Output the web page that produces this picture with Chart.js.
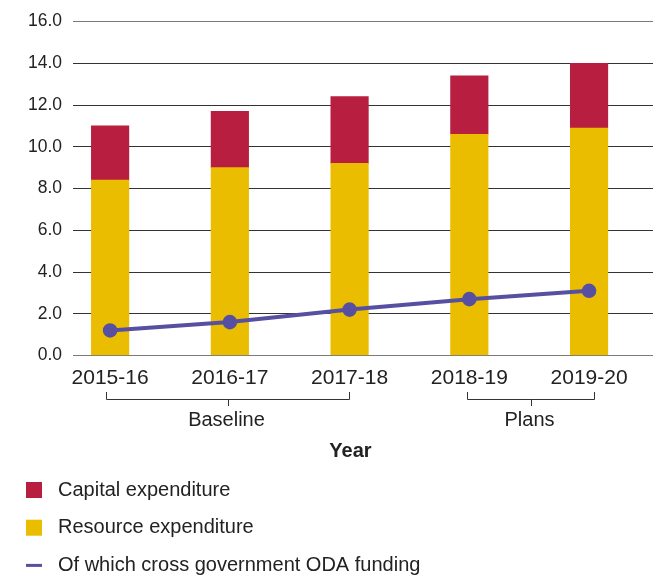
<!DOCTYPE html>
<html>
<head>
<meta charset="utf-8">
<script src="https://cdn.jsdelivr.net/npm/chart.js@4"></script>
<style>
  html, body { margin: 0; padding: 0; background: #fff; }
  #wrap { width: 653px; height: 575px; }
</style>
</head>
<body>
<div id="wrap"><canvas id="myChart" width="653" height="575"></canvas></div>
<script>
// values (£ billion)
const years = ['2015-16', '2016-17', '2017-18', '2018-19', '2019-20'];
const resource = [8.4, 9.0, 9.2, 10.6, 10.9];
const capital = [2.6, 2.7, 3.2, 2.8, 3.1];
const odaFunding = [1.2, 1.6, 2.2, 2.7, 3.1];
const yTicks = [0, 2, 4, 6, 8, 10, 12, 14, 16];
const groups = [
    { label: 'Baseline', from: -0.034, to: 1.995 },
    { label: 'Plans', from: 2.978, to: 4.039 }
];
const axisTitle = 'Year';

const FONT = '"Liberation Sans", Arial, sans-serif';
const TEXT = '#222';

const points = (arr) => arr.map((v, i) => ({ x: i, y: v }));

// brackets under the x labels, axis title and the legend list
const extras = {
    id: 'extras',
    afterDraw(chart) {
        const c = chart.ctx;
        const xs = chart.scales.x;
        c.save();
        c.strokeStyle = '#333';
        c.lineWidth = 1;
        c.fillStyle = TEXT;
        c.textAlign = 'center';
        c.textBaseline = 'middle';
        c.font = '20px ' + FONT;
        groups.forEach((g) => {
            const a = Math.round(xs.getPixelForValue(g.from)) + 0.5;
            const b = Math.round(xs.getPixelForValue(g.to)) + 0.5;
            const m = Math.round((a + b) / 2) + 0.5;
            c.beginPath();
            c.moveTo(a, 392); c.lineTo(a, 399.5); c.lineTo(b, 399.5); c.lineTo(b, 392);
            c.moveTo(m, 399.5); c.lineTo(m, 406);
            c.stroke();
            c.fillText(g.label, m - 2, 420.5);
        });
        c.font = 'bold 20px ' + FONT;
        c.fillText(axisTitle, 350.5, 451);

        // legend
        const ds = chart.data.datasets;
        const rows = [ds[1], ds[0], ds[2]];
        c.textAlign = 'left';
        c.font = '20px ' + FONT;
        rows.forEach((d, i) => {
            const y = 490 + i * 37.7;
            if (d.type === 'line') {
                c.fillStyle = d.borderColor;
                c.fillRect(26, y - 1.5, 16, 3);
            } else {
                c.fillStyle = d.backgroundColor;
                c.fillRect(26, y - 8, 16, 16);
            }
            c.fillStyle = TEXT;
            c.fillText(d.label, 58, y);
        });
        c.restore();
    }
};

const ctx = document.getElementById('myChart').getContext('2d');
const myChart = new Chart(ctx, {
    data: {
        datasets: [
            {
                type: 'bar',
                label: 'Resource expenditure',
                data: points(resource),
                backgroundColor: '#ebbd00',
                barThickness: 37.5,
                order: 2
            },
            {
                type: 'bar',
                label: 'Capital expenditure',
                data: points(capital),
                backgroundColor: '#b81e3f',
                barThickness: 37.5,
                order: 2
            },
            {
                type: 'line',
                label: 'Of which cross government ODA funding',
                data: points(odaFunding),
                borderColor: '#5750a2',
                backgroundColor: '#5750a2',
                borderWidth: 4,
                pointRadius: 5.3,
                pointHoverRadius: 5.3,
                fill: false,
                order: 0
            }
        ]
    },
    options: {
        responsive: false,
        animation: false,
        layout: { autoPadding: false, padding: { top: 14.5, right: 0, left: 0, bottom: 0 } },
        plugins: {
            legend: { display: false },
            tooltip: { enabled: false }
        },
        scales: {
            x: {
                type: 'linear',
                stacked: true,
                offset: false,
                min: -0.31,
                max: 4.534,
                grid: { display: false, drawTicks: false },
                border: { display: false },
                afterBuildTicks: (scale) => {
                    scale.ticks = years.map((y, i) => ({ value: i }));
                },
                afterFit: (scale) => {
                    scale.height = 219.5;
                },
                ticks: {
                    padding: 10,
                    autoSkip: false,
                    maxRotation: 0,
                    color: TEXT,
                    font: { family: FONT, size: 21 },
                    callback: (v) => years[v]
                }
            },
            y: {
                stacked: true,
                min: 0,
                max: 16,
                afterBuildTicks: (scale) => {
                    scale.ticks = yTicks.map((v) => ({ value: v }));
                },
                afterFit: (scale) => { scale.width = 73; },
                grid: {
                    drawTicks: false,
                    color: (c) => (c.tick.value === 0 || c.tick.value === 16) ? '#7a7a7a' : '#333',
                    lineWidth: 1
                },
                border: { display: false },
                ticks: {
                    padding: 11,
                    color: TEXT,
                    font: { family: FONT, size: 17.5 },
                    callback: (v) => v.toFixed(1)
                }
            }
        }
    },
    plugins: [extras]
});
</script>
</body>
</html>
